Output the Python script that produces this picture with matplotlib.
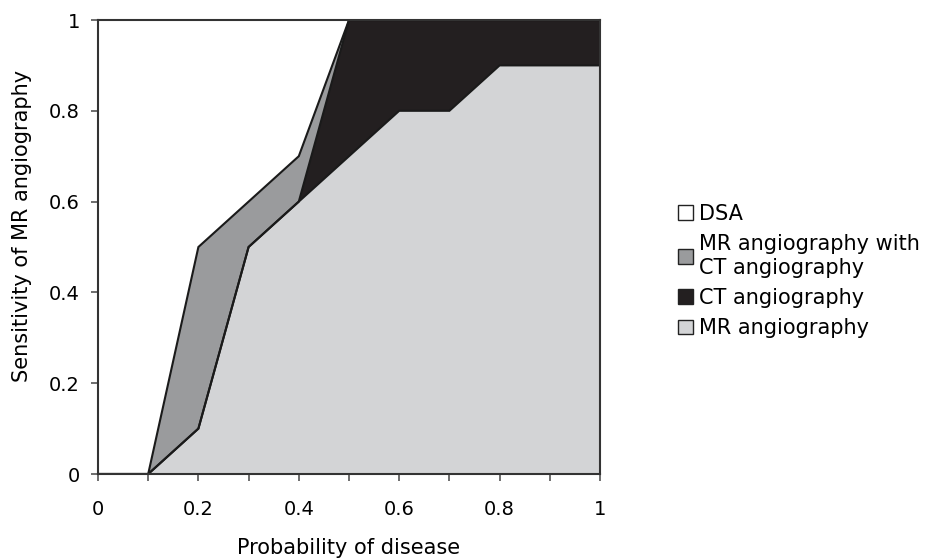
import matplotlib
matplotlib.use("Agg")
import matplotlib.pyplot as plt
from matplotlib.patches import Patch
import numpy as np

plt.rcParams['font.family'] = ['DejaVu Sans']

# Data
prob = [0.0, 0.1, 0.2, 0.3, 0.4, 0.5, 0.6, 0.7, 0.8, 0.9, 1.0]
mr_top = [0.0, 0.0, 0.1, 0.5, 0.6, 0.7, 0.8, 0.8, 0.9, 0.9, 0.9]
ct_top = [0.0, 0.0, 0.1, 0.5, 0.6, 1.0, 1.0, 1.0, 1.0, 1.0, 1.0]
mrct_top = [0.0, 0.0, 0.5, 0.6, 0.7, 1.0, 1.0, 1.0, 1.0, 1.0, 1.0]
labels = ["DSA", "MR angiography with\nCT angiography", "CT angiography", "MR angiography"]
colors = ["#ffffff", "#9a9b9d", "#231f20", "#d3d4d6"]
x_ticks = [0, 0.2, 0.4, 0.6, 0.8, 1.0]
x_ticklabels = ["0", "0.2", "0.4", "0.6", "0.8", "1"]
y_ticks = [0, 0.2, 0.4, 0.6, 0.8, 1.0]
y_ticklabels = ["0", "0.2", "0.4", "0.6", "0.8", "1"]

W, H = 926, 560
FS = 15
TFS = 14

fig = plt.figure(figsize=(W/100, H/100), dpi=100)
ax = fig.add_axes([98/W, 1-474/H, 502/W, 454/H])

ax.fill_between(prob, mr_top, mrct_top, facecolor=colors[1], edgecolor='none', zorder=1)
ax.fill_between(prob, mr_top, ct_top, facecolor=colors[2], edgecolor='none', zorder=2)
ax.fill_between(prob, 0, mr_top, facecolor=colors[3], edgecolor='none', zorder=3)
for y in (mrct_top, ct_top, mr_top):
    ax.plot(prob, y, color='#1a1a1a', lw=1.5, zorder=4, solid_joinstyle='miter')

ax.set_xlim(0, 1)
ax.set_ylim(0, 1)
ax.set_xticks(x_ticks)
ax.set_xticklabels(x_ticklabels)
ax.set_xticks(np.arange(0.1, 1.0, 0.2), minor=True)
ax.set_yticks(y_ticks)
ax.set_yticklabels(y_ticklabels)
ax.tick_params(axis='both', which='both', direction='out', length=5, width=1.2,
               color='#555555', labelsize=TFS)
ax.tick_params(axis='x', which='both', pad=14)
ax.tick_params(axis='y', which='both', pad=8)
for s in ax.spines.values():
    s.set_color('#333333')
    s.set_linewidth(1.5)
    s.set_zorder(5)

xl = ax.set_xlabel("Probability of disease", fontsize=FS)
xl.set_va('center')
ax.xaxis.set_label_coords(0.5, -(548-474)/454)
yl = ax.set_ylabel("Sensitivity of MR angiography", fontsize=FS)
yl.set_va('center')
ax.yaxis.set_label_coords((22-98)/502, 0.546)

handles = [Patch(facecolor=c, edgecolor='#222222', linewidth=1) for c in colors]
leg = fig.legend(handles, labels, loc='upper left', bbox_to_anchor=(678/W, 1-204/H),
                 frameon=False, fontsize=FS, handlelength=0.7, handleheight=0.7,
                 handletextpad=0.3, labelspacing=0.5, borderpad=0, borderaxespad=0)

fig.savefig("out.png", dpi=100)
